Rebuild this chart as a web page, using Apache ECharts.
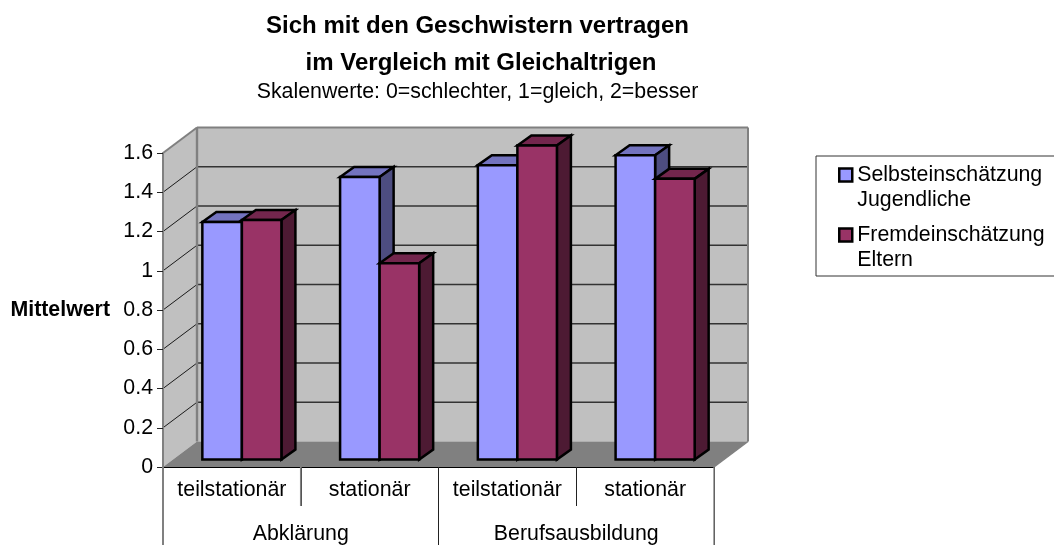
<!DOCTYPE html>
<html>
<head>
<meta charset="utf-8">
<style>html,body{margin:0;padding:0;background:#fff}#c{width:1054px;height:545px}</style>
<script src="https://cdn.jsdelivr.net/npm/echarts@6/dist/echarts.min.js"></script>
</head>
<body>
<div id="c"></div>
<script>
const categories = ['teilstationär', 'stationär', 'teilstationär', 'stationär'];
const groups = ['Abklärung', 'Berufsausbildung'];
const selbst = [1.21, 1.44, 1.50, 1.55];
const fremd = [1.22, 1.00, 1.60, 1.43];
const seriesNames = ['Selbsteinschätzung\nJugendliche', 'Fremdeinschätzung\nEltern'];
const titleLines = ['Sich mit den Geschwistern vertragen', 'im Vergleich mit Gleichaltrigen'];
const subtitle = 'Skalenwerte: 0=schlechter, 1=gleich, 2=besser';
const yTicks = [0, 0.2, 0.4, 0.6, 0.8, 1, 1.2, 1.4, 1.6];

const FONT = '"Liberation Sans", Arial, sans-serif';
const FS = 21.33;
const WALL = {dx: 34, dy: -25.5};
const BAR_DEPTH = {dx: 14, dy: -10};
const BAR_FRONT = {dx: 10, dy: -7.5};
const BAR_FRAC = 0.287;
const BAR_STROKE = 2.5;
const LEGEND_ICON = 'path://M0 0H13V13H0Z M0 38L0 38';
const palette = [
  {front: '#9999ff', top: '#7373bf', side: '#4d4d80'},
  {front: '#993366', top: '#73264d', side: '#4d1a33'}
];

function poly(points, fill, stroke, lw) {
  return {type: 'polygon', shape: {points},
    style: {fill: fill, stroke: stroke || null, lineWidth: lw || 0, lineJoin: 'miter'}};
}
function line(x1, y1, x2, y2, stroke, lw) {
  return {type: 'line', shape: {x1, y1, x2, y2}, style: {stroke, lineWidth: lw}};
}

function renderFrame(params, api) {
  const cs = params.coordSys;
  const L = cs.x, R = cs.x + cs.width;
  const y0 = api.coord([0, 0])[1], yT = api.coord([0, yTicks[yTicks.length - 1]])[1];
  const d = WALL, kids = [];
  kids.push(poly([[L + d.dx, yT + d.dy], [R + d.dx, yT + d.dy], [R + d.dx, y0 + d.dy], [L + d.dx, y0 + d.dy]], '#c0c0c0'));
  kids.push(poly([[L, yT], [L + d.dx, yT + d.dy], [L + d.dx, y0 + d.dy], [L, y0]], '#c0c0c0'));
  yTicks.slice(1, -1).forEach(v => {
    const y = api.coord([0, v])[1];
    kids.push(line(L, y, L + d.dx, y + d.dy, '#1a1a1a', 1));
    kids.push(line(L + d.dx, y + d.dy, R + d.dx, y + d.dy, '#333333', 1.4));
  });
  kids.push(poly([[L, y0], [L + d.dx, y0 + d.dy], [R + d.dx, y0 + d.dy], [R, y0]], '#808080'));
  kids.push(line(L, yT, L + d.dx, yT + d.dy, '#808080', 2));
  kids.push(line(L + d.dx, yT + d.dy, R + d.dx, yT + d.dy, '#808080', 2));
  kids.push(line(L + d.dx, yT + d.dy, L + d.dx, y0 + d.dy, '#808080', 2.4));
  kids.push(line(R + d.dx, yT + d.dy, R + d.dx, y0 + d.dy, '#808080', 2));
  kids.push(line(R, y0, R + d.dx, y0 + d.dy, '#808080', 1.4));
  return {type: 'group', children: kids};
}

function renderDividers(params, api) {
  const cs = params.coordSys;
  const L = cs.x, R = cs.x + cs.width, B = cs.y + cs.height;
  const band = cs.width / categories.length;
  return {type: 'group', children: [
    line(L, B, L, B + 80, '#808080', 2),
    line(L + band, B, L + band, B + 39, '#808080', 1.6),
    line(R, B, R, B + 80, '#808080', 1.4)
  ]};
}

function barRenderer(s) {
  return function (params, api) {
    const p = api.coord([api.value(0), api.value(1)]);
    const base = api.coord([api.value(0), 0]);
    const w = api.size([1, 0])[0] * BAR_FRAC;
    const c = palette[s];
    const xl = (s === 0 ? p[0] - w : p[0]) + BAR_FRONT.dx;
    const xr = xl + w;
    const yt = p[1] + BAR_FRONT.dy, yb = base[1] + BAR_FRONT.dy;
    const D = BAR_DEPTH;
    return {type: 'group', children: [
      poly([[xl, yt], [xl + D.dx, yt + D.dy], [xr + D.dx, yt + D.dy], [xr, yt]], c.top, '#000', BAR_STROKE),
      poly([[xr, yt], [xr + D.dx, yt + D.dy], [xr + D.dx, yb + D.dy], [xr, yb]], c.side, '#000', BAR_STROKE),
      poly([[xl, yt], [xr, yt], [xr, yb], [xl, yb]], c.front, '#000', BAR_STROKE)
    ]};
  };
}

const titleBase = {textAlign: 'center', padding: 0};
const boldTitle = {fontFamily: FONT, fontSize: 24, fontWeight: 'bold', color: '#000'};
const chart = echarts.init(document.getElementById('c'), null, {renderer: 'canvas'});
chart.setOption({
  animation: false,
  backgroundColor: '#ffffff',
  textStyle: {fontFamily: FONT},
  title: [
    Object.assign({}, titleBase, {text: titleLines[0], left: 477.5, top: 14, textStyle: boldTitle}),
    Object.assign({}, titleBase, {text: titleLines[1], left: 481, top: 51, textStyle: boldTitle}),
    Object.assign({}, titleBase, {text: subtitle, left: 477.5, top: 82, textStyle: {fontFamily: FONT, fontSize: FS, fontWeight: 'normal', color: '#000'}})
  ],
  grid: {left: 163, right: 340, top: 153, bottom: 78, containLabel: false},
  legend: {
    left: 816, top: 156, orient: 'vertical', align: 'left',
    padding: [6.5, 30, 3.5, 22],
    itemWidth: 13, itemHeight: 38, itemGap: 10,
    borderColor: '#333333', borderWidth: 1,
    selectedMode: false,
    textStyle: {fontFamily: FONT, fontSize: FS, color: '#000', lineHeight: 25},
    data: seriesNames.map((n, i) => ({name: n, icon: LEGEND_ICON,
      itemStyle: {color: palette[i].front, borderColor: '#000', borderWidth: 2.5}}))
  },
  xAxis: [
    {type: 'category', data: categories, position: 'bottom', z: 5,
      axisLine: {show: true, lineStyle: {color: '#000', width: 1}},
      axisTick: {show: true, length: 39, alignWithLabel: false, lineStyle: {color: '#222', width: 1}},
      axisLabel: {show: true, margin: 13, fontFamily: FONT, fontSize: FS, color: '#000', interval: 0}},
    {type: 'category', data: groups, position: 'bottom', z: 5,
      axisLine: {show: false},
      axisTick: {show: true, length: 78, lineStyle: {color: '#222', width: 1}},
      axisLabel: {show: true, margin: 57, fontFamily: FONT, fontSize: FS, color: '#000', interval: 0}}
  ],
  yAxis: {type: 'value', min: 0, max: 1.6, interval: 0.2, z: 5,
    name: 'Mittelwert', nameLocation: 'middle', nameRotate: 0, nameGap: 53,
    nameTextStyle: {fontFamily: FONT, fontSize: FS, fontWeight: 'bold', color: '#000'},
    axisLine: {show: true, lineStyle: {color: '#808080', width: 2}},
    axisTick: {show: true, length: 6, lineStyle: {color: '#222', width: 1}},
    axisLabel: {margin: 10, fontFamily: FONT, fontSize: FS, color: '#000'},
    splitLine: {show: false}},
  series: [
    {type: 'custom', name: 'frame', z: 1, silent: true, xAxisIndex: 0, data: [[0, 0]], renderItem: renderFrame},
    {type: 'custom', name: seriesNames[0], z: 2, xAxisIndex: 0, itemStyle: {color: palette[0].front},
      encode: {x: 0, y: 1}, data: selbst.map((v, i) => [i, v]), renderItem: barRenderer(0)},
    {type: 'custom', name: seriesNames[1], z: 3, xAxisIndex: 0, itemStyle: {color: palette[1].front},
      encode: {x: 0, y: 1}, data: fremd.map((v, i) => [i, v]), renderItem: barRenderer(1)},
    {type: 'custom', name: 'dividers', z: 6, silent: true, xAxisIndex: 0, data: [[0, 0]], renderItem: renderDividers}
  ]
});
</script>
</body>
</html>
